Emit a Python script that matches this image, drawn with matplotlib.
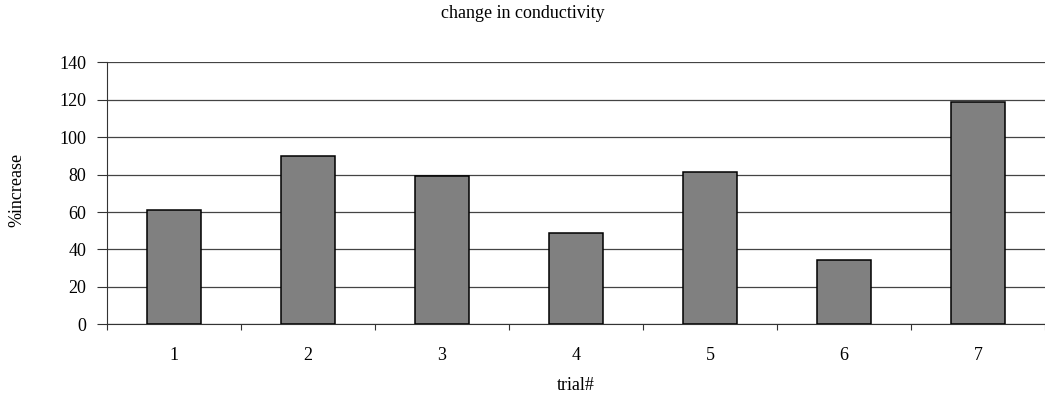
import numpy as np
from matplotlib import pyplot as plt

trials = ['1', '2', '3', '4', '5', '6', '7']
pct_increase = [61, 90, 79, 49, 81.5, 34.5, 118.7]
y_ticks = [0, 20, 40, 60, 80, 100, 120, 140]

plt.rcParams['font.family'] = ['Liberation Serif', 'DejaVu Serif']

fig = plt.figure(figsize=(10.45, 3.96), dpi=100)
ax = fig.add_axes([107 / 1045, 1 - 324.3 / 396, 1 - 107 / 1045, (324.3 - 62.3) / 396])

x = np.arange(1, len(trials) + 1)
ax.bar(x, pct_increase, width=0.4, color='#808080', edgecolor='black', linewidth=1.1, zorder=3)

ax.set_ylim(0, 140)
ax.set_yticks(y_ticks)
ax.set_xlim(0.5, 0.5 + (1045 - 107) / 134.7)

# tick marks between categories, labels at the centers
ax.set_xticks(np.arange(0.5, len(trials) + 1, 1.0))
ax.set_xticklabels([])
ax.set_xticks(x, minor=True)
ax.set_xticklabels(trials, minor=True)
ax.tick_params(axis='x', which='major', direction='out', length=4, width=0.8, color='#333333')
ax.tick_params(axis='x', which='minor', length=0, pad=16, labelsize=13)
ax.tick_params(axis='y', direction='out', length=7, width=0.8, color='#333333', labelsize=13, pad=8)

ax.yaxis.grid(True, color='#444444', linewidth=0.9, zorder=0)
ax.set_axisbelow(True)
for s in ['top', 'right']:
    ax.spines[s].set_visible(False)
ax.spines['left'].set_color('#333333')
ax.spines['bottom'].set_color('#333333')

fig.text(0.5, 1 - 14 / 396, 'change in conductivity', ha='center', va='center', fontsize=13)
fig.text(576 / 1045, 1 - 386 / 396, 'trial#', ha='center', va='center', fontsize=13)
fig.text(17 / 1045, 1 - 190 / 396, '%increase', ha='center', va='center', rotation=90, fontsize=13)

fig.savefig('out.png', dpi=100)
